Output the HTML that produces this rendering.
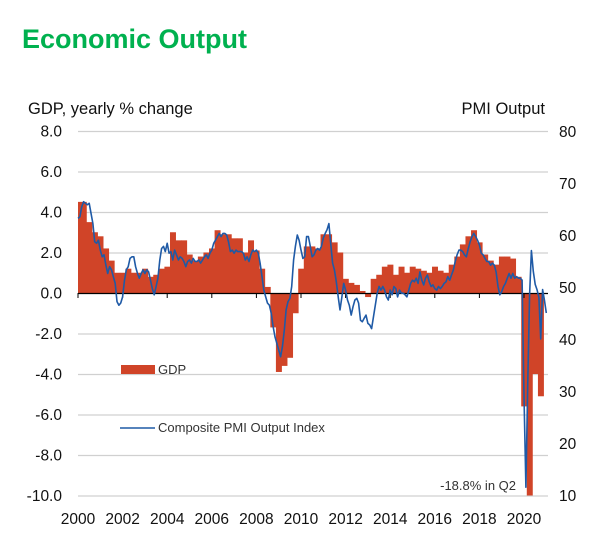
<!DOCTYPE html>
<html><head><meta charset="utf-8"><style>
body{margin:0;background:#fff;}
svg{display:block;font-family:"Liberation Sans",Arial,sans-serif;}
</style></head><body>
<svg id="chart" width="600" height="537" viewBox="0 0 600 537">
<text x="22" y="48" font-size="27" font-weight="bold" fill="#00b14f">Economic Output</text>
<text x="28" y="114" font-size="16.5" fill="#111">GDP, yearly % change</text>
<text x="545" y="114" font-size="16.5" fill="#111" text-anchor="end">PMI Output</text>
<g id="grid"></g><g id="bars"></g><g id="axes"></g><g id="line"></g><g id="labels"></g>
<rect x="121" y="365" width="34" height="9" fill="#d04428"/>
<text x="158" y="374" font-size="13" fill="#333">GDP</text>
<line x1="120" y1="428" x2="155" y2="428" stroke="#1f5aa6" stroke-width="1.5"/>
<text x="158" y="432" font-size="13" fill="#333">Composite PMI Output Index</text>
<text x="516" y="490" font-size="13" fill="#333" text-anchor="end">-18.8% in Q2</text>
</svg>
<script>
const gdpValues=[4.5,4.5,3.5,3.0,2.8,2.2,1.6,1.0,1.0,1.2,1.0,1.0,1.2,0.8,0.9,1.2,1.3,3.0,2.6,2.6,1.9,1.6,1.8,2.0,2.2,3.1,2.9,2.9,2.7,2.7,2.0,2.6,2.1,1.2,0.3,-1.7,-3.9,-3.6,-3.2,-1.0,1.2,2.3,2.3,2.2,2.9,2.9,2.5,2.0,0.7,0.5,0.4,0.1,-0.2,0.7,0.9,1.3,1.4,0.9,1.3,1.0,1.3,1.2,1.1,1.0,1.3,1.1,1.0,1.4,1.8,2.4,2.8,3.1,2.5,1.9,1.6,1.4,1.8,1.8,1.7,0.8,-5.6,-18.8,-4.0,-5.1];
const pmiValues=[63.2,63.5,65.4,66.4,66.1,65.8,66.1,64.2,62.2,58.7,58.4,59.0,57.1,55.8,56.2,54.2,52.6,53.9,53.3,52.0,50.7,47.2,46.5,46.9,48.1,51.3,53.3,53.9,55.5,55.8,55.8,53.9,52.6,51.7,52.6,53.3,52.6,53.3,52.9,51.3,49.7,48.5,50.1,51.7,55.2,57.4,57.8,56.8,58.4,56.5,56.8,55.2,57.1,56.2,55.2,55.8,55.5,54.9,53.9,54.9,55.2,54.6,55.5,54.9,54.9,55.2,54.6,55.2,55.8,56.2,55.5,56.5,57.1,58.4,59.0,59.7,60.3,59.7,60.3,60.3,60.0,58.7,56.8,57.1,56.5,57.1,56.8,56.8,56.8,56.5,55.2,55.8,54.9,56.2,57.1,56.8,57.1,56.5,54.6,52.0,49.4,48.1,46.9,46.5,44.9,42.4,40.4,39.2,37.9,36.6,38.5,41.7,45.6,47.2,47.8,50.1,55.2,57.8,60.0,59.0,57.1,55.5,55.8,59.7,59.7,57.8,55.8,56.2,57.1,57.4,57.1,57.8,59.4,60.3,61.0,62.2,58.4,54.6,53.3,51.0,48.1,45.6,48.1,50.7,49.4,47.5,46.5,44.6,46.2,47.5,47.8,46.9,43.6,43.3,44.0,44.6,43.0,42.7,42.0,44.3,46.5,48.8,50.1,49.4,50.1,49.4,48.1,47.5,49.4,48.5,50.1,49.7,48.1,49.4,48.8,48.8,48.5,48.1,49.4,50.7,51.3,51.0,51.7,50.7,52.9,51.3,50.4,51.7,52.3,51.0,50.1,50.4,49.7,49.4,50.1,49.7,50.1,50.7,51.0,52.0,51.3,52.3,53.3,54.9,56.2,57.1,57.1,56.8,56.2,55.8,57.4,58.7,59.7,60.3,59.7,59.0,58.1,56.5,56.2,55.5,54.9,54.9,54.2,54.6,54.2,52.9,50.1,48.5,49.1,50.1,50.7,51.7,52.6,51.7,52.6,51.7,52.0,51.7,51.7,51.3,29.0,11.5,31.0,48.5,57.0,53.0,50.5,49.5,48.0,40.0,49.5,47.5,45.0];
const leftTicks=["8.0","6.0","4.0","2.0","0.0","-2.0","-4.0","-6.0","-8.0","-10.0"];
const leftTickValues=[8,6,4,2,0,-2,-4,-6,-8,-10];
const rightTicks=["80","70","60","50","40","30","20","10"];
const rightTickValues=[80,70,60,50,40,30,20,10];
const yearLabels=["2000","2002","2004","2006","2008","2010","2012","2014","2016","2018","2020"];

const NS="http://www.w3.org/2000/svg";
const X0=78,X1=548,yrW=22.3;
const xYear=t=>X0+(t-2000)*yrW;
const yG=v=>293-v*20.25;
const yP=v=>131+(80-v)*5.2;
function mk(tag,attrs,parent){const e=document.createElementNS(NS,tag);for(const k in attrs)e.setAttribute(k,attrs[k]);document.getElementById(parent).appendChild(e);return e;}

leftTickValues.forEach((v,i)=>{
  if(v!==0){const g=mk('line',{x1:X0,x2:X1,y1:yG(v)+0.5,y2:yG(v)+0.5,stroke:'#d0d0d0','stroke-width':1.2},'grid');
  
  }
  const t=mk('text',{x:62,y:yG(v)+5.5,'font-size':15.5,fill:'#111','text-anchor':'end'},'labels');
  t.textContent=leftTicks[i];
  
  
});
rightTickValues.forEach((v,i)=>{
  const t=mk('text',{x:559,y:yP(v)+6,'font-size':15.5,fill:'#111'},'labels');
  t.textContent=rightTicks[i];
  
  
});
const qW=yrW/4;
gdpValues.forEach((v,i)=>{
  const x=X0+(i-0.5)*qW;const vc=Math.max(v,-10);
  const y1=Math.min(yG(0),yG(vc)),h=Math.abs(yG(vc)-yG(0));
  const r=mk('rect',{x:Math.max(x,X0),y:y1,width:x<X0?qW/2+0.4:qW+0.4,height:h,fill:'#d04428'},'bars');
  
  
});
const ax=mk('line',{x1:X0,x2:X1,y1:yG(0)+0.5,y2:yG(0)+0.5,stroke:'#000','stroke-width':1.3},'axes');


yearLabels.forEach(l=>{
  const x=xYear(+l);
  const tk=mk('line',{x1:x,x2:x,y1:yG(0),y2:yG(0)+5,stroke:'#000','stroke-width':1},'axes');
  
  
  const t=mk('text',{x:x,y:524,'font-size':15.5,fill:'#111','text-anchor':'middle'},'labels');
  t.textContent=l;
  
  
});
const pts=pmiValues.map((v,i)=>(X0+i*yrW/12).toFixed(1)+','+yP(v).toFixed(1)).join(' ');
const pl=mk('polyline',{points:pts,fill:'none',stroke:'#1f5aa6','stroke-width':1.6,'stroke-linejoin':'round'},'line');


</script>
</body></html>
